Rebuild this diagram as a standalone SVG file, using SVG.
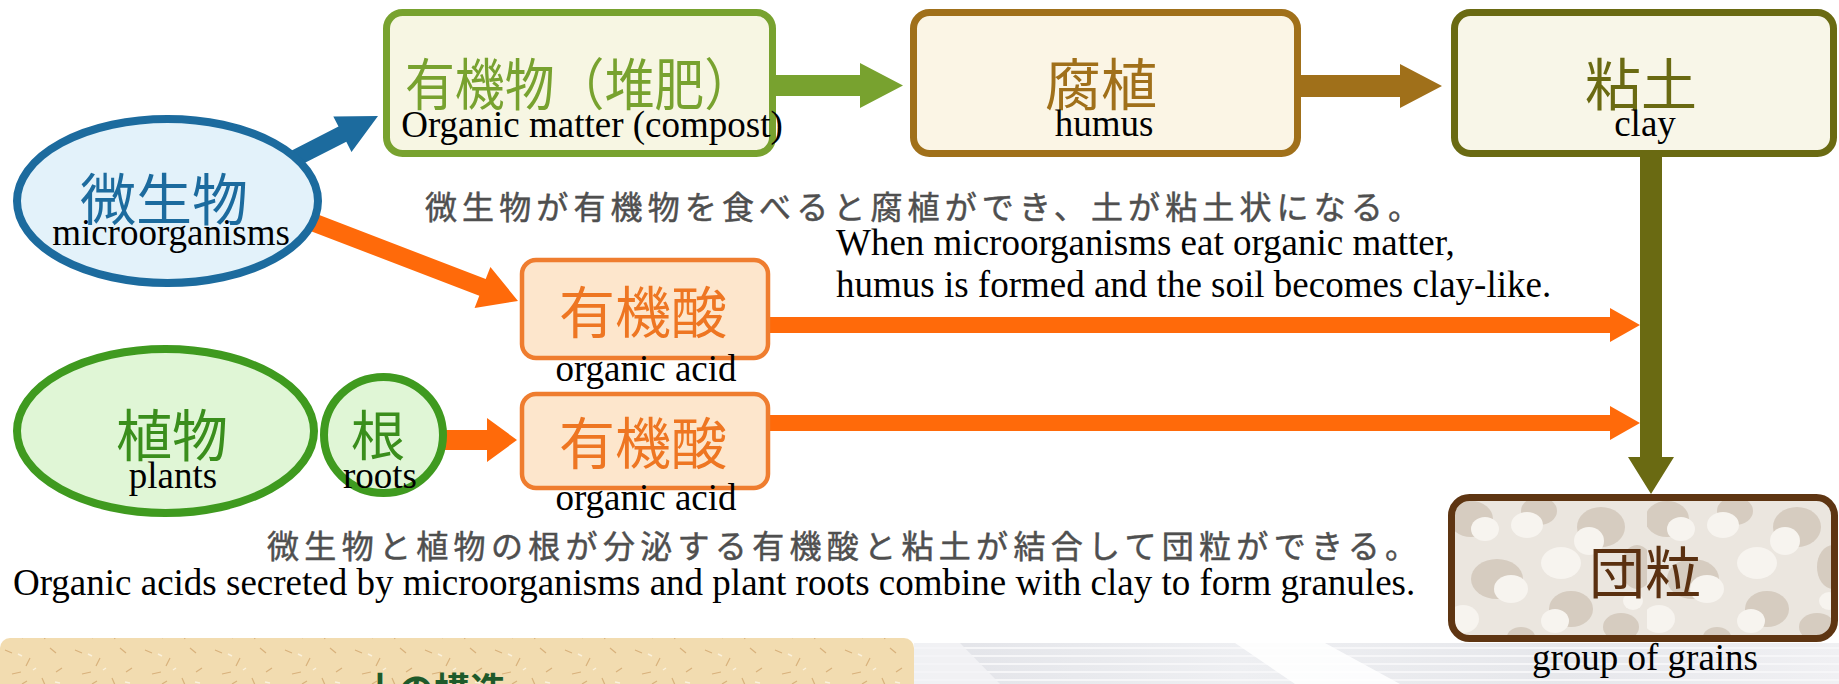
<svg xmlns="http://www.w3.org/2000/svg" width="1839" height="684" viewBox="0 0 1839 684">
  <style>
    .cjk { font-family: "Noto Sans CJK JP", "Noto Sans CJK SC", sans-serif; }
    .en { font-family: "Liberation Serif", "Times New Roman", serif; font-size: 37px; fill: #000; }
    .big { font-size: 56px; text-anchor: middle; }
    .cap { font-size: 32px; fill: #4f4f4f; stroke: #4f4f4f; stroke-width: 0.5px; }
    .mid { text-anchor: middle; }
    .green { fill: #78a22f; }
    .brown { fill: #a0701a; }
    .olive { fill: #6a6a12; }
    .orange { fill: #ff6a0a; }
    .blue { fill: #1c6b9e; }
    .peb { fill: #d6ccc0; }
    .lite { fill: #f7f4ef; }
  </style>
  <defs>
    <pattern id="pebbles" patternUnits="userSpaceOnUse" x="1451" y="497" width="196" height="144">
      <rect width="196" height="144" fill="#ebe6df"/>
      <ellipse class="peb" cx="20" cy="22" rx="22" ry="18"/>
      <ellipse class="lite" cx="34" cy="32" rx="14" ry="12"/>
      <ellipse class="peb" cx="88" cy="14" rx="18" ry="14"/>
      <ellipse class="lite" cx="76" cy="28" rx="16" ry="13"/>
      <ellipse class="peb" cx="150" cy="30" rx="24" ry="20"/>
      <ellipse class="lite" cx="138" cy="44" rx="15" ry="14"/>
      <ellipse class="peb" cx="186" cy="70" rx="16" ry="22"/>
      <ellipse class="peb" cx="46" cy="82" rx="26" ry="20"/>
      <ellipse class="lite" cx="60" cy="92" rx="17" ry="14"/>
      <ellipse class="lite" cx="110" cy="66" rx="20" ry="16"/>
      <ellipse class="peb" cx="120" cy="112" rx="22" ry="18"/>
      <ellipse class="lite" cx="104" cy="124" rx="14" ry="12"/>
      <ellipse class="peb" cx="170" cy="130" rx="18" ry="14"/>
      <ellipse class="lite" cx="12" cy="122" rx="16" ry="14"/>
      <ellipse class="peb" cx="70" cy="140" rx="14" ry="10"/>
      <ellipse class="lite" cx="182" cy="104" rx="10" ry="9"/>
    </pattern>
    <pattern id="paper" patternUnits="userSpaceOnUse" width="70" height="46">
      <rect width="70" height="46" fill="#f2dcb0"/>
      <path d="M5 6 l7 3 M30 14 l-4 8 M50 4 l6 5 M12 30 l9 -2 M42 34 l3 7 M62 24 l-6 4 M22 40 l5 -3" stroke="#d9b27c" stroke-width="1.2"/>
      <path d="M18 10 l4 2 M55 38 l5 1 M36 24 l-3 2" stroke="#fbf1dc" stroke-width="1.5"/>
    </pattern>
    <linearGradient id="steel" x1="0" y1="0" x2="1" y2="0">
      <stop offset="0" stop-color="#e2e3e8"/>
      <stop offset="0.35" stop-color="#eeeff2"/>
      <stop offset="0.7" stop-color="#e6e7eb"/>
      <stop offset="1" stop-color="#f0f0f3"/>
    </linearGradient>
  </defs>

  <rect width="1839" height="684" fill="#ffffff"/>

  <!-- bottom background panels -->
  <g id="bottom-panels">
    <rect x="0" y="638" width="914" height="70" rx="10" fill="url(#paper)"/>
    <text class="cjk" x="434" y="704" font-size="36" font-weight="bold" fill="#1e5a2a" text-anchor="middle">土の構造</text>
    <rect x="914" y="643" width="925" height="41" fill="url(#steel)"/>
    <path d="M914 648 H1839 M914 656 H1839 M914 664 H1839 M914 672 H1839 M914 680 H1839" stroke="#f6f6f8" stroke-width="2"/>
    <polygon points="1235,643 1325,643 1400,684 1295,684" fill="#ffffff" opacity="0.85"/>
    <polygon points="914,643 960,643 1000,684 914,684" fill="#f4f4f6" opacity="0.8"/>
  </g>

  <!-- connectors -->
  <g id="connectors">
    <polygon class="blue" points="283.9,173.6 276.1,158.4 338.5,126.6 333.3,116.4 378,116 351.5,152 346.3,141.8"/>
    <polygon class="orange" points="290.8,223.4 297.2,206.6 485.7,279 490.4,266.9 518,301 474.6,307.9 479.3,295.8"/>
    <polygon class="orange" points="440,430 487,430 487,418 517,440 487,462 487,450 440,450"/>
    <polygon class="green" points="770,75 860,75 860,63 903,85.5 860,108 860,96 770,96"/>
    <polygon class="brown" points="1295,75 1400,75 1400,64 1442,86 1400,108 1400,97 1295,97"/>
    <polygon class="orange" points="760,317 1610,317 1610,308 1640,325 1610,342 1610,333 760,333"/>
    <polygon class="orange" points="760,415 1610,415 1610,406 1640,423 1610,440 1610,431 760,431"/>
    <polygon class="olive" points="1640,150 1662,150 1662,457 1674,457 1651,494 1628,457 1640,457"/>
  </g>

  <!-- nodes -->
  <g id="node-microorganisms">
    <ellipse cx="167.5" cy="201" rx="150.5" ry="82" fill="#e3f2fa" stroke="#1c6b9e" stroke-width="8"/>
    <text class="cjk big" x="164" y="220" fill="#1c6b9e">微生物</text>
    <text class="en mid" x="171" y="245">microorganisms</text>
  </g>

  <g id="node-plants">
    <ellipse cx="165.5" cy="431" rx="148.5" ry="82" fill="#e0f6d6" stroke="#3f9a1f" stroke-width="8"/>
    <text class="cjk big" x="172" y="456" fill="#3a8e1c">植物</text>
    <text class="en mid" x="173" y="488">plants</text>
  </g>

  <g id="node-roots">
    <ellipse cx="383.5" cy="435" rx="59.5" ry="58" fill="#e0f6d6" stroke="#3f9a1f" stroke-width="8"/>
    <text class="cjk" x="378" y="456" font-size="54" fill="#3a8e1c" text-anchor="middle">根</text>
    <text class="en mid" x="380" y="488">roots</text>
  </g>

  <g id="node-organic-matter">
    <rect x="386.5" y="12.5" width="386" height="141" rx="16" fill="#f7f6e3" stroke="#78a22f" stroke-width="7"/>
    <text class="cjk" x="405" y="105" font-size="56" fill="#78a22f" textLength="349" lengthAdjust="spacingAndGlyphs">有機物（堆肥）</text>
    <text class="en mid" x="592" y="137">Organic matter (compost)</text>
  </g>

  <g id="node-humus">
    <rect x="913.5" y="12.5" width="384" height="141" rx="16" fill="#fbf5e5" stroke="#a0701a" stroke-width="7"/>
    <text class="cjk big" x="1101" y="105" fill="#a0701a">腐植</text>
    <text class="en mid" x="1104" y="136">humus</text>
  </g>

  <g id="node-clay">
    <rect x="1454.5" y="12.5" width="379" height="141" rx="16" fill="#f8f6e8" stroke="#6a6a12" stroke-width="7"/>
    <text class="cjk big" x="1641" y="105" fill="#6a6a12">粘土</text>
    <text class="en mid" x="1645" y="136">clay</text>
  </g>

  <g id="node-organic-acid-1">
    <rect x="522" y="260" width="246" height="98" rx="14" fill="#fde6cc" stroke="#ef7d2f" stroke-width="4.5"/>
    <text class="cjk big" x="643" y="333" fill="#ee7622">有機酸</text>
    <text class="en mid" x="646" y="381">organic acid</text>
  </g>

  <g id="node-organic-acid-2">
    <rect x="522" y="394" width="246" height="94" rx="14" fill="#fde6cc" stroke="#ef7d2f" stroke-width="4.5"/>
    <text class="cjk big" x="643" y="464" fill="#ee7622">有機酸</text>
    <text class="en mid" x="646" y="510">organic acid</text>
  </g>

  <g id="node-granules">
    <rect x="1451.5" y="497.5" width="383" height="141" rx="18" fill="url(#pebbles)"/>
    <rect x="1451.5" y="497.5" width="383" height="141" rx="18" fill="none" stroke="#5e3512" stroke-width="7"/>
    <text class="cjk big" x="1645" y="593" fill="#5a3010">団粒</text>
    <text class="en mid" x="1645" y="670">group of grains</text>
  </g>

  <!-- captions -->
  <g id="captions">
    <text class="cjk cap" x="425" y="219" textLength="995" lengthAdjust="spacing">微生物が有機物を食べると腐植ができ、土が粘土状になる。</text>
    <text class="en" x="836" y="255">When microorganisms eat organic matter,</text>
    <text class="en" x="836" y="297">humus is formed and the soil becomes clay-like.</text>
    <text class="cjk cap" x="267" y="558" textLength="1150" lengthAdjust="spacing">微生物と植物の根が分泌する有機酸と粘土が結合して団粒ができる。</text>
    <text class="en" x="13" y="595">Organic acids secreted by microorganisms and plant roots combine with clay to form granules.</text>
  </g>
</svg>
